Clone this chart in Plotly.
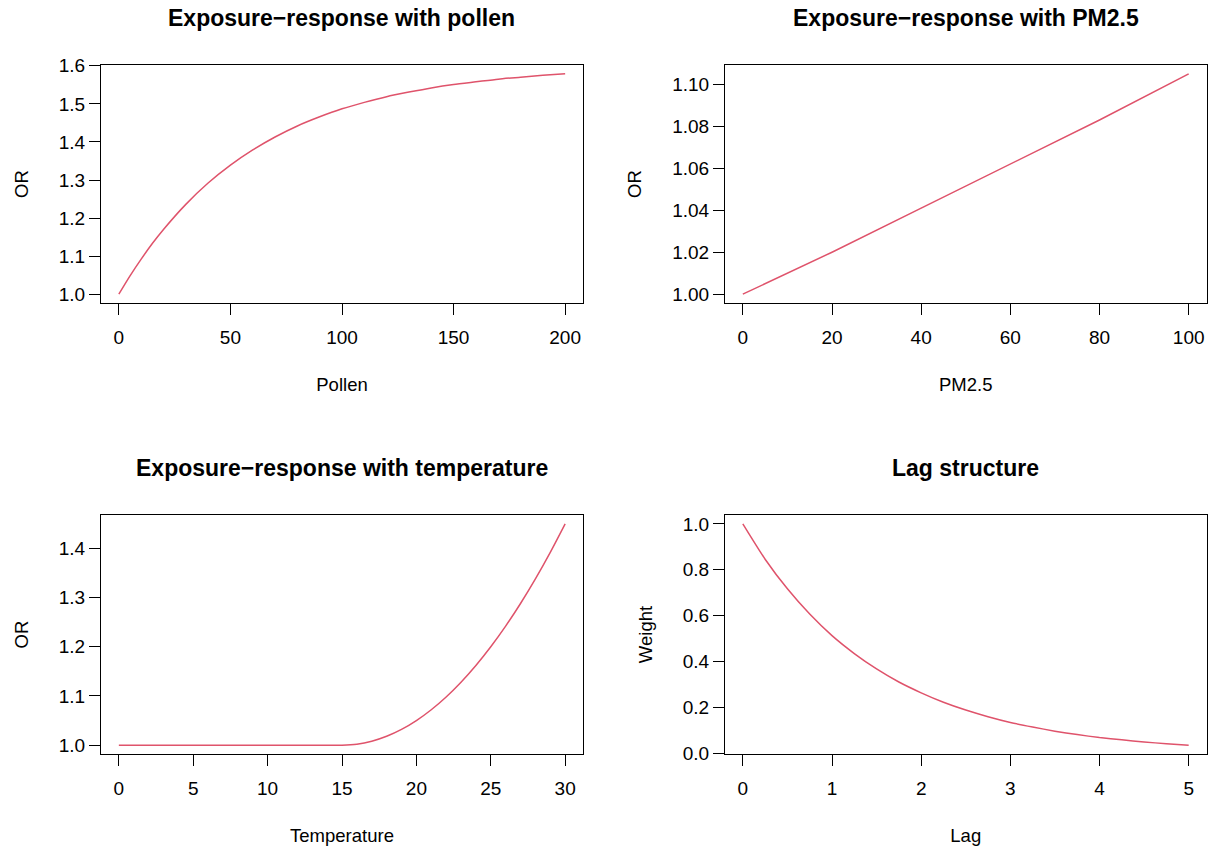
import plotly.graph_objects as go

# ---------------- data ----------------
pollen = [0, 5, 10, 15, 20, 30, 40, 50, 60, 70, 80, 90, 100, 110, 120, 130, 140, 150, 160, 170, 180, 190, 200]
or_pollen = [1.000, 1.048, 1.092, 1.133, 1.170, 1.236, 1.292, 1.339, 1.379, 1.413, 1.442, 1.466, 1.487,
             1.504, 1.519, 1.531, 1.542, 1.551, 1.558, 1.565, 1.570, 1.575, 1.579]

pm25 = [0, 20, 40, 60, 80, 100]
or_pm25 = [1.000, 1.020, 1.041, 1.062, 1.083, 1.105]

temperature = [0, 1, 2, 3, 4, 5, 6, 7, 8, 9, 10, 11, 12, 13, 14, 15, 16, 17, 18, 19, 20,
               21, 22, 23, 24, 25, 26, 27, 28, 29, 30]
or_temperature = [1.000, 1.000, 1.000, 1.000, 1.000, 1.000, 1.000, 1.000, 1.000, 1.000, 1.000,
                  1.000, 1.000, 1.000, 1.000, 1.000, 1.002, 1.008, 1.018, 1.032, 1.050,
                  1.072, 1.098, 1.128, 1.162, 1.200, 1.242, 1.288, 1.338, 1.392, 1.450]

lag = [0, 0.25, 0.5, 0.75, 1.0, 1.25, 1.5, 1.75, 2.0, 2.25, 2.5, 2.75, 3.0, 3.25, 3.5, 3.75,
       4.0, 4.25, 4.5, 4.75, 5.0]
weight = [1.000, 0.846, 0.717, 0.607, 0.513, 0.435, 0.368, 0.311, 0.264, 0.223, 0.189, 0.160,
          0.135, 0.115, 0.097, 0.082, 0.069, 0.059, 0.050, 0.042, 0.036]

titles = ["Exposure\u2212response with pollen", "Exposure\u2212response with PM2.5",
          "Exposure\u2212response with temperature", "Lag structure"]
x_titles = ["Pollen", "PM2.5", "Temperature", "Lag"]
y_titles = ["OR", "OR", "OR", "Weight"]
x_ticks = [[0, 50, 100, 150, 200], [0, 20, 40, 60, 80, 100], [0, 5, 10, 15, 20, 25, 30], [0, 1, 2, 3, 4, 5]]
y_ticks = [[1.0, 1.1, 1.2, 1.3, 1.4, 1.5, 1.6],
           [1.00, 1.02, 1.04, 1.06, 1.08, 1.10],
           [1.0, 1.1, 1.2, 1.3, 1.4],
           [0.0, 0.2, 0.4, 0.6, 0.8, 1.0]]
y_fmt = [".1f", ".2f", ".1f", ".1f"]

# ---------------- layout geometry (pixels) ----------------
W, H = 1212, 848
boxes = [  # left, right, top, bottom
    (101, 583, 65, 303),
    (725, 1206.5, 65, 303),
    (101, 583, 515, 754),
    (725, 1206.5, 515, 754),
]

LINE_COLOR = "#DF536B"
FONT = "Liberation Sans, Arial, Helvetica, sans-serif"

series = [(pollen, or_pollen, "spline"), (pm25, or_pm25, "linear"),
          (temperature, or_temperature, "spline"), (lag, weight, "spline")]


def padded(vals):
    lo, hi = min(vals), max(vals)
    d = (hi - lo) * 0.04
    return [lo - d, hi + d]


fig = go.Figure()
annotations = []
for i, ((xs, ys, shape), (l, r, t, b)) in enumerate(zip(series, boxes)):
    n = "" if i == 0 else str(i + 1)
    fig.add_trace(go.Scatter(x=xs, y=ys, mode="lines",
                             line=dict(color=LINE_COLOR, width=1.5, shape=shape, smoothing=0.6),
                             xaxis="x" + n, yaxis="y" + n, showlegend=False, hoverinfo="x+y"))
    common = dict(showgrid=False, zeroline=False, showline=True, linecolor="black", linewidth=1,
                  mirror=True, ticks="outside", ticklen=11, tickwidth=1, tickcolor="black",
                  tickfont=dict(family=FONT, size=19, color="black"), automargin=False)
    fig.layout["xaxis" + n] = dict(
        common, domain=[l / W, r / W], anchor="y" + n, range=padded(xs),
        tickmode="array", tickvals=x_ticks[i], ticklabelstandoff=6,
        title=dict(text=x_titles[i], font=dict(family=FONT, size=18.5, color="black"), standoff=31))
    fig.layout["yaxis" + n] = dict(
        common, domain=[1 - b / H, 1 - t / H], anchor="x" + n, range=padded(ys),
        tickmode="array", tickvals=y_ticks[i], tickformat=y_fmt[i], ticklabelstandoff=0,
        title=dict(text=y_titles[i], font=dict(family=FONT, size=18.5, color="black"), standoff=25))
    annotations.append(dict(text="<b>" + titles[i] + "</b>", xref="paper", yref="paper",
                            x=(l + r) / 2 / W, y=1 - (t - 47) / H, xanchor="center", yanchor="middle",
                            showarrow=False, font=dict(family=FONT, size=23, color="black")))

fig.update_layout(width=W, height=H, margin=dict(l=0, r=0, t=0, b=0),
                  paper_bgcolor="white", plot_bgcolor="white", annotations=annotations,
                  font=dict(family=FONT, color="black"))
fig.write_html("out.html", config={"displayModeBar": False})

# remove the browser's default page margin so the figure sits at the window's top-left corner
with open("out.html", encoding="utf-8") as fh:
    page = fh.read()
page = page.replace("<body>", '<body style="margin:0;padding:0;overflow:hidden;">', 1)
with open("out.html", "w", encoding="utf-8") as fh:
    fh.write(page)
